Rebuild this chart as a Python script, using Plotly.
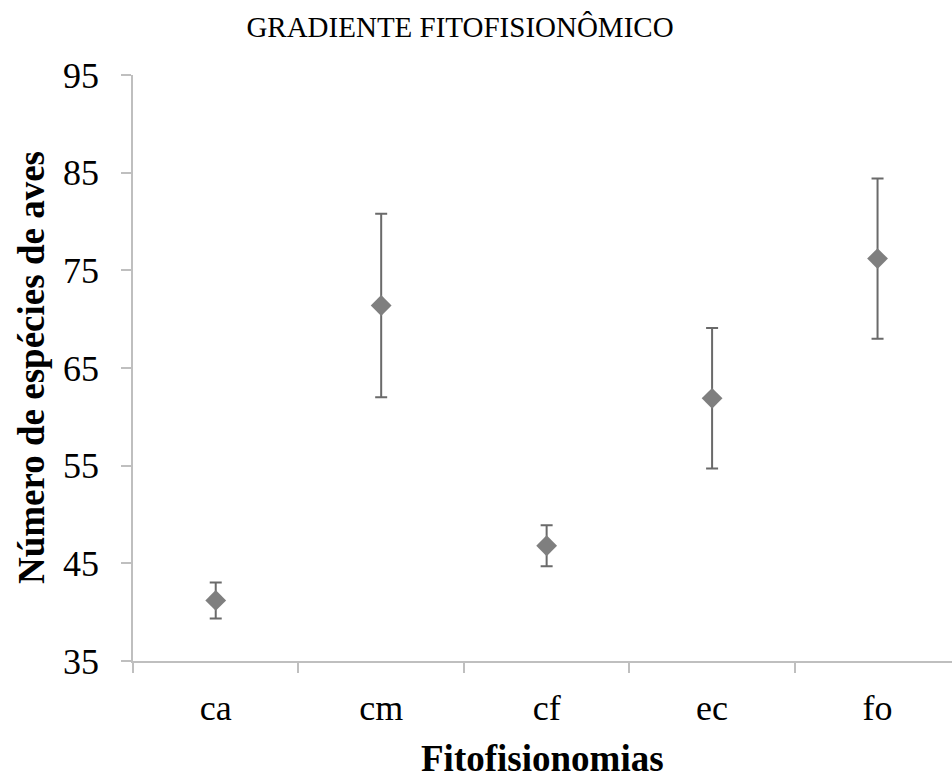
import plotly.graph_objects as go

categories = ["ca", "cm", "cf", "ec", "fo"]
means = [41.2, 71.4, 46.8, 61.9, 76.2]
errors = [1.85, 9.4, 2.1, 7.2, 8.2]
y_ticks = [35, 45, 55, 65, 75, 85, 95]

SERIF = "Liberation Serif, Times New Roman, serif"
AXIS_COLOR = "#bfbfbf"

fig = go.Figure()
fig.add_trace(go.Scatter(
    x=categories, y=means, mode="markers",
    marker=dict(symbol="diamond", size=16, color="#7f7f7f", line=dict(width=0)),
    error_y=dict(type="data", array=errors, visible=True, color="#6a6a6a",
                 thickness=2, width=6),
    showlegend=False,
))

fig.update_layout(
    width=952, height=784,
    margin=dict(l=133, r=0, t=75, b=123),
    paper_bgcolor="white", plot_bgcolor="white",
    font=dict(family=SERIF, color="black"),
    title=dict(text="GRADIENTE FITOFISIONÔMICO", font=dict(size=29, family=SERIF, color="black"),
               x=460 / 952, xanchor="center", xref="container",
               y=1 - 27 / 784, yanchor="middle", yref="container"),
    xaxis=dict(
        type="category", range=[-0.5, 4.45],
        showline=True, linecolor=AXIS_COLOR, linewidth=1.5,
        ticks="outside", tickson="boundaries", ticklen=10, tickcolor=AXIS_COLOR, tickwidth=1.5,
        tickfont=dict(size=36, family=SERIF, color="black"),
        showgrid=False, zeroline=False, ticklabelstandoff=14,
    ),
    yaxis=dict(
        range=[35, 95], tickvals=y_ticks,
        showline=True, linecolor=AXIS_COLOR, linewidth=1.5,
        ticks="outside", ticklen=10, tickcolor=AXIS_COLOR, tickwidth=1.5,
        tickfont=dict(size=36, family=SERIF, color="black"),
        showgrid=False, zeroline=False, ticklabelstandoff=15,
    ),
    annotations=[
        dict(text="<b>Fitofisionomias</b>", xref="paper", yref="paper",
             x=0.5, y=0, yshift=-(758 - 661), xanchor="center", yanchor="middle",
             showarrow=False, font=dict(size=37, family=SERIF, color="black")),
        dict(text="<b>Número de espécies de aves</b>", xref="paper", yref="paper",
             x=0, xshift=-(133 - 31), y=0.5, xanchor="center", yanchor="middle",
             textangle=-90, showarrow=False, font=dict(size=37, family=SERIF, color="black")),
    ],
)

fig.write_html("out.html")
